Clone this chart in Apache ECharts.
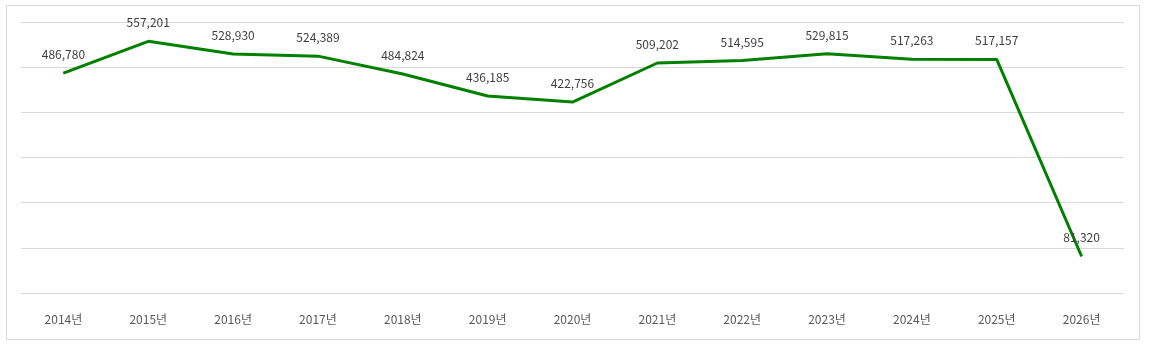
<!DOCTYPE html>
<html><head><meta charset="utf-8">
<script src="https://cdn.jsdelivr.net/npm/echarts@6/dist/echarts.min.js"></script>
<style>html,body{margin:0;padding:0;background:#fff;}#c{width:1150px;height:350px;}</style>
</head><body><div id="c"></div>
<script>
const categories = ['2014년','2015년','2016년','2017년','2018년','2019년','2020년','2021년','2022년','2023년','2024년','2025년','2026년'];
const values = [486780, 557201, 528930, 524389, 484824, 436185, 422756, 509202, 514595, 529815, 517263, 517157, 81320];
const yMin = 0, yMax = 600000, yInterval = 100000;

const chart = echarts.init(document.getElementById('c'), null, {renderer:'canvas'});
chart.setOption({
  backgroundColor:'#fff',
  animation:false,
  graphic:[{type:'rect',shape:{x:6.5,y:5.5,width:1133,height:334},style:{fill:'none',stroke:'#d9d9d9',lineWidth:1},silent:true,z:-1}],
  grid:{left:21,right:26,top:22,bottom:57},
  xAxis:{type:'category',data:categories,boundaryGap:true,
    axisLine:{lineStyle:{color:'#d9d9d9'}},axisTick:{show:false},
    axisLabel:{color:'#595959',fontSize:12,margin:20,fontFamily:'"Noto Sans CJK KR", sans-serif'}},
  yAxis:{type:'value',min:yMin,max:yMax,interval:yInterval,
    axisLabel:{show:false},axisLine:{show:false},axisTick:{show:false},
    splitLine:{lineStyle:{color:'#d9d9d9',width:1}}},
  series:[{type:'line',data:values,symbol:'circle',symbolSize:1,showSymbol:true,
    lineStyle:{color:'#008000',width:3},itemStyle:{color:'#008000'},
    label:{show:true,position:'top',distance:12,color:'#404040',fontSize:12,
      fontFamily:'"Noto Sans CJK KR", sans-serif',
      formatter:p=>p.value.toLocaleString('en-US')}}]
});
</script></body></html>
